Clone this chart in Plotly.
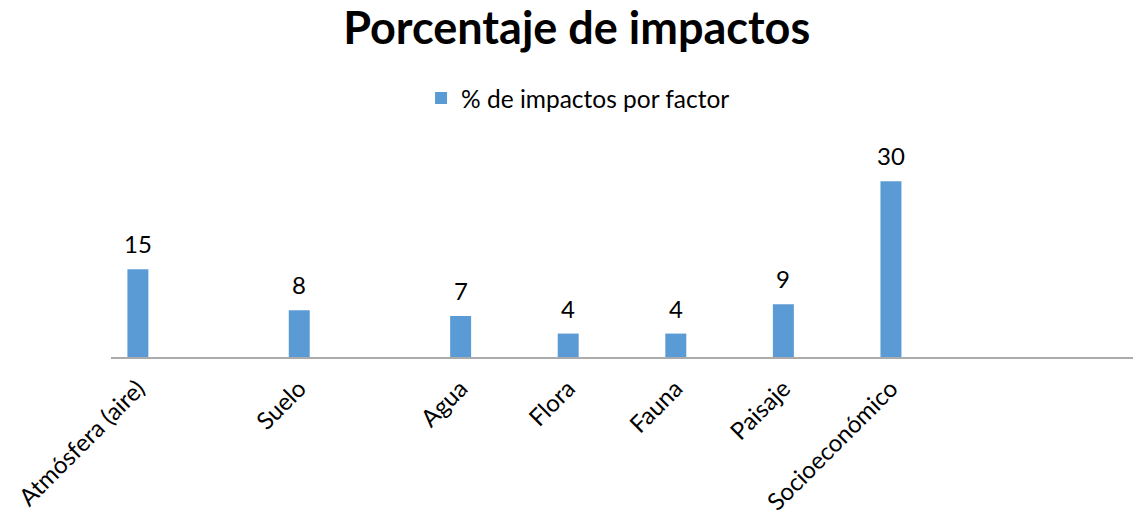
import plotly.graph_objects as go

# Spreadsheet rows: factor names, with blank rows left between some of them
filas = ["Atmósfera (aire)", "", "", "Suelo", "", "", "Agua", "", "Flora", "",
         "Fauna", "", "Paisaje", "", "Socioeconómico", "", "", "", ""]
porcentajes = [15, None, None, 8, None, None, 7, None, 4, None,
               4, None, 9, None, 30, None, None, None, None]
serie = "% de impactos por factor"
titulo = "Porcentaje de impactos"

# blank rows need distinct keys on a category axis
categorias = [f if f else " " * (i + 1) for i, f in enumerate(filas)]

FONT = "Lato"
AZUL = "#5b9bd5"

fig = go.Figure()
fig.add_trace(go.Bar(
    x=categorias, y=porcentajes, name=serie,
    marker=dict(color=AZUL, line=dict(width=0)),
    width=0.39, showlegend=True,
))

for c, v in zip(categorias, porcentajes):
    if v is None:
        continue
    fig.add_annotation(x=c, y=v, text=str(v), showarrow=False,
                       yanchor="bottom", yshift=9,
                       font=dict(family=FONT, size=24, color="#000000"))

fig.update_layout(
    width=1133, height=520,
    margin=dict(l=111, r=0, t=152, b=163),
    paper_bgcolor="white", plot_bgcolor="white",
    title=dict(text=f"<b>{titulo}</b>", x=0.509, xanchor="center",
               y=1 - 28 / 520, yanchor="middle",
               font=dict(family=FONT, size=45, color="#000000")),
    legend=dict(orientation="h", x=0.457, xanchor="center",
                y=1.263, yanchor="middle",
                font=dict(family=FONT, size=24.5, color="#000000"),
                itemsizing="constant"),
    showlegend=True,
    xaxis=dict(type="category", categoryorder="array", categoryarray=categorias,
               tickangle=-45, showgrid=False, showline=True,
               linecolor="#ababab", linewidth=2, ticks="",
               ticklabelstandoff=6, automargin=False,
               tickfont=dict(family=FONT, size=24, color="#000000"),
               fixedrange=True),
    yaxis=dict(range=[0, 35], visible=False, showgrid=False, fixedrange=True,
               automargin=False),
)

fig.write_html("out.html")
